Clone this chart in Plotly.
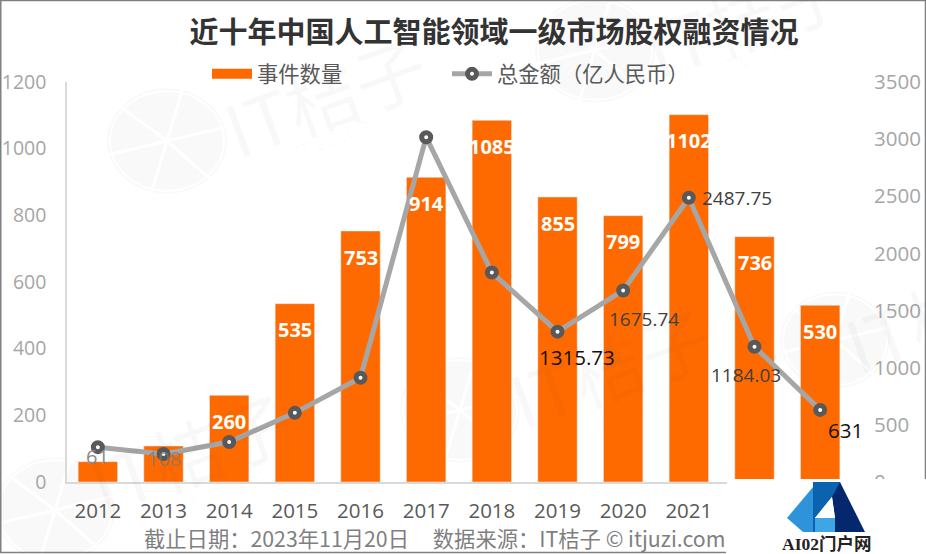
import math
import plotly.graph_objects as go

years = ["2012","2013","2014","2015","2016","2017","2018","2019","2020","2021","2022","2023"]
events = [61,108,260,535,753,914,1085,855,799,1102,736,530]
amounts = [305,245,350,605,912,3017,1833,1315.73,1675.74,2487.75,1184.03,631]
event_names = "事件数量"
amount_name = "总金额（亿人民币）"
title_text = "近十年中国人工智能领域一级市场股权融资情况"
footer_text = "截止日期：2023年11月20日     数据来源：IT桔子 © itjuzi.com"
left_ticks = [0,200,400,600,800,1000,1200]
right_ticks = [0,500,1000,1500,2000,2500,3000,3500]

W, H = 926, 554
ML, MR, MT, MB = 67, 73, 82, 72
FONT = "Noto Sans CJK SC"
NUM = "Open Sans"
ORANGE = "#ff6a00"

def px(x): return (x - ML) / (W - ML - MR)
def py(y): return 1 - (y - MT) / (H - MT - MB)

fig = go.Figure()
fig.add_bar(x=years, y=events, marker_color=ORANGE, width=0.6, showlegend=False, yaxis="y")
fig.add_scatter(x=[None], y=[None], mode="lines", name=event_names, line=dict(color=ORANGE, width=12))
fig.add_scatter(x=years, y=amounts, mode="lines+markers", name=amount_name, yaxis="y2",
                line=dict(color="#a6a6a6", width=5),
                marker=dict(size=9, color="white", line=dict(color="#595959", width=5)))

shapes, ann = [], []

def poly(points, fill, layer="above"):
    d = "M" + "L".join(f"{px(a):.5f},{py(b):.5f}" for a, b in points) + "Z"
    shapes.append(dict(type="path", xref="paper", yref="paper", path=d, fillcolor=fill, layer=layer, line=dict(width=0)))

def seg(x0, y0, x1, y1, color, width, layer="above"):
    shapes.append(dict(type="line", xref="paper", yref="paper", x0=px(x0), y0=py(y0), x1=px(x1), y1=py(y1),
                       line=dict(color=color, width=width), layer=layer))

def paper_text(x, y, text, size, color, family=FONT, angle=0, bold=False):
    ann.append(dict(xref="paper", yref="paper", x=px(x), y=py(y), text=f"<b>{text}</b>" if bold else text,
                    showarrow=False, textangle=angle, xanchor="center", yanchor="middle",
                    font=dict(family=family, size=size, color=color)))

# watermark: faint citrus discs and rotated brand text
WM = "rgba(0,0,0,0.028)"
def citrus(cx, cy, r):
    shapes.append(dict(type="circle", xref="paper", yref="paper", x0=px(cx-r), x1=px(cx+r), y0=py(cy+r*0.88), y1=py(cy-r*0.88),
                       fillcolor="rgba(0,0,0,0.022)", line=dict(width=0), layer="below"))
    shapes.append(dict(type="circle", xref="paper", yref="paper", x0=px(cx-r+3), x1=px(cx+r-3), y0=py(cy+r*0.88-3), y1=py(cy-r*0.88+3),
                       fillcolor="rgba(0,0,0,0)", line=dict(color="white", width=2), layer="below"))
    for deg in (15, 75, 140, 195, 255, 315):
        a = math.radians(deg)
        seg(cx, cy, cx + r*math.cos(a), cy - r*0.88*math.sin(a), "white", 3, layer="below")

for cx, cy, r in [(167,141,60),(595,50,60),(460,410,60),(55,510,60),(835,340,55)]:
    citrus(cx, cy, r)
for x, y in [(325,95),(745,15),(610,365),(190,450),(945,310)]:
    paper_text(x, y, "IT桔子", 72, WM, angle=-20)
for x, y in [(340,136),(765,52),(650,405),(230,490)]:
    paper_text(x, y, "ITJUZI.COM", 18, WM, family=NUM, angle=-20)

# value labels on the bars (category axes take the index of the category)
for i, v in enumerate(events):
    if v < 110:
        continue
    ann.append(dict(x=i, y=v, xref="x", yref="y", text=f"<b>{v}</b>", showarrow=False, yshift=-26,
                    font=dict(family=NUM, size=20, color="white")))
ann.append(dict(x=0, y=events[0], xref="x", yref="y", text=str(events[0]), showarrow=False, yshift=5,
                font=dict(family=NUM, size=20, color="#8a8a8a")))
ann.append(dict(x=1, y=events[1], xref="x", yref="y", text=str(events[1]), showarrow=False, yshift=-12,
                font=dict(family=NUM, size=20, color="rgba(120,120,120,0.75)")))

# value labels on the line
for i, dx, dy, col, sz in [(7, 19, -25, "#111111", 20.5), (8, 21, -29, "#404040", 19), (9, 48, 0, "#404040", 19),
                           (10, -9, -28, "#404040", 19), (11, 25, -20, "#111111", 20.5)]:
    ann.append(dict(x=i, y=amounts[i], xref="x", yref="y2", text=f"{amounts[i]:g}", showarrow=False,
                    xshift=dx, yshift=dy, font=dict(family=NUM, size=sz, color=col)))

# white patch that hides the lower-right corner, then the site logo
poly([(727,479),(926,479),(926,554),(727,554)], "white")
poly([(787,518),(813,487),(813,532),(803,532)], "#2f93dc")
poly([(813,482),(840,482),(842,494),(832,497),(815,518),(815,532),(813,532)], "#0b63b0")
poly([(840,482),(865,532),(835,532),(835,518),(832,497)], "#04276e")
poly([(832,497),(815,518),(835,518)], "white")
poly([(815,518),(835,518),(835,532),(815,532)], "#3ea6e4")
paper_text(826, 544, "AI02门户网", 17.5, "#222222", family="Liberation Serif, Noto Sans CJK SC", bold=True)

# frame of the picture
FRAME = "#808080"
seg(0.5, 0, 0.5, 553, FRAME, 2)
seg(0, 0.5, 926, 0.5, FRAME, 1.5)
seg(0, 552.5, 726, 552.5, FRAME, 1.5)
seg(925.5, 0, 925.5, 479, FRAME, 1.5)

paper_text(434.5, 537, footer_text, 21.3, "#7f7f7f")

fig.update_layout(
    width=W, height=H, autosize=False,
    margin=dict(l=ML, r=MR, t=MT, b=MB, autoexpand=False),
    paper_bgcolor="white", plot_bgcolor="rgba(0,0,0,0)",
    title=dict(text=f"<b>{title_text}</b>", x=494/W, y=1-33/H, xref="container", yref="container",
               xanchor="center", yanchor="middle", font=dict(family=FONT, size=29, color="#333333")),
    legend=dict(orientation="h", xref="container", yref="container", x=207/W, y=1-74/H,
                xanchor="left", yanchor="middle", itemwidth=40, entrywidth=185, entrywidthmode="pixels",
                font=dict(family=FONT, size=21.3, color="#595959"), bgcolor="rgba(0,0,0,0)"),
    xaxis=dict(type="category", categoryorder="array", categoryarray=years, tickfont=dict(family=NUM, size=20.5, color="#595959"),
               showline=True, linecolor="#d9d9d9", linewidth=2, ticks="", showgrid=False, zeroline=False,
               tickvals=years, ticktext=years, range=[-0.47, 11.5], ticklabelstandoff=9),
    yaxis=dict(range=[0,1200], tickvals=left_ticks, tickfont=dict(family=NUM, size=19.5, color="#a6a6a6"),
               showline=True, linecolor="#d9d9d9", linewidth=1.5, ticks="", ticklabelstandoff=15,
               showgrid=False, zeroline=False),
    yaxis2=dict(range=[0,3500], tickvals=right_ticks, overlaying="y", side="right", anchor="x",
                tickfont=dict(family=NUM, size=20.5, color="#a6a6a6"), showgrid=False, zeroline=False, showline=False, ticklabelstandoff=20),
    shapes=shapes, annotations=ann, hovermode=False,
)
fig.write_html("out.html", config=dict(displayModeBar=False),
               post_script="document.body.style.margin='0';document.documentElement.style.overflow='hidden';")
